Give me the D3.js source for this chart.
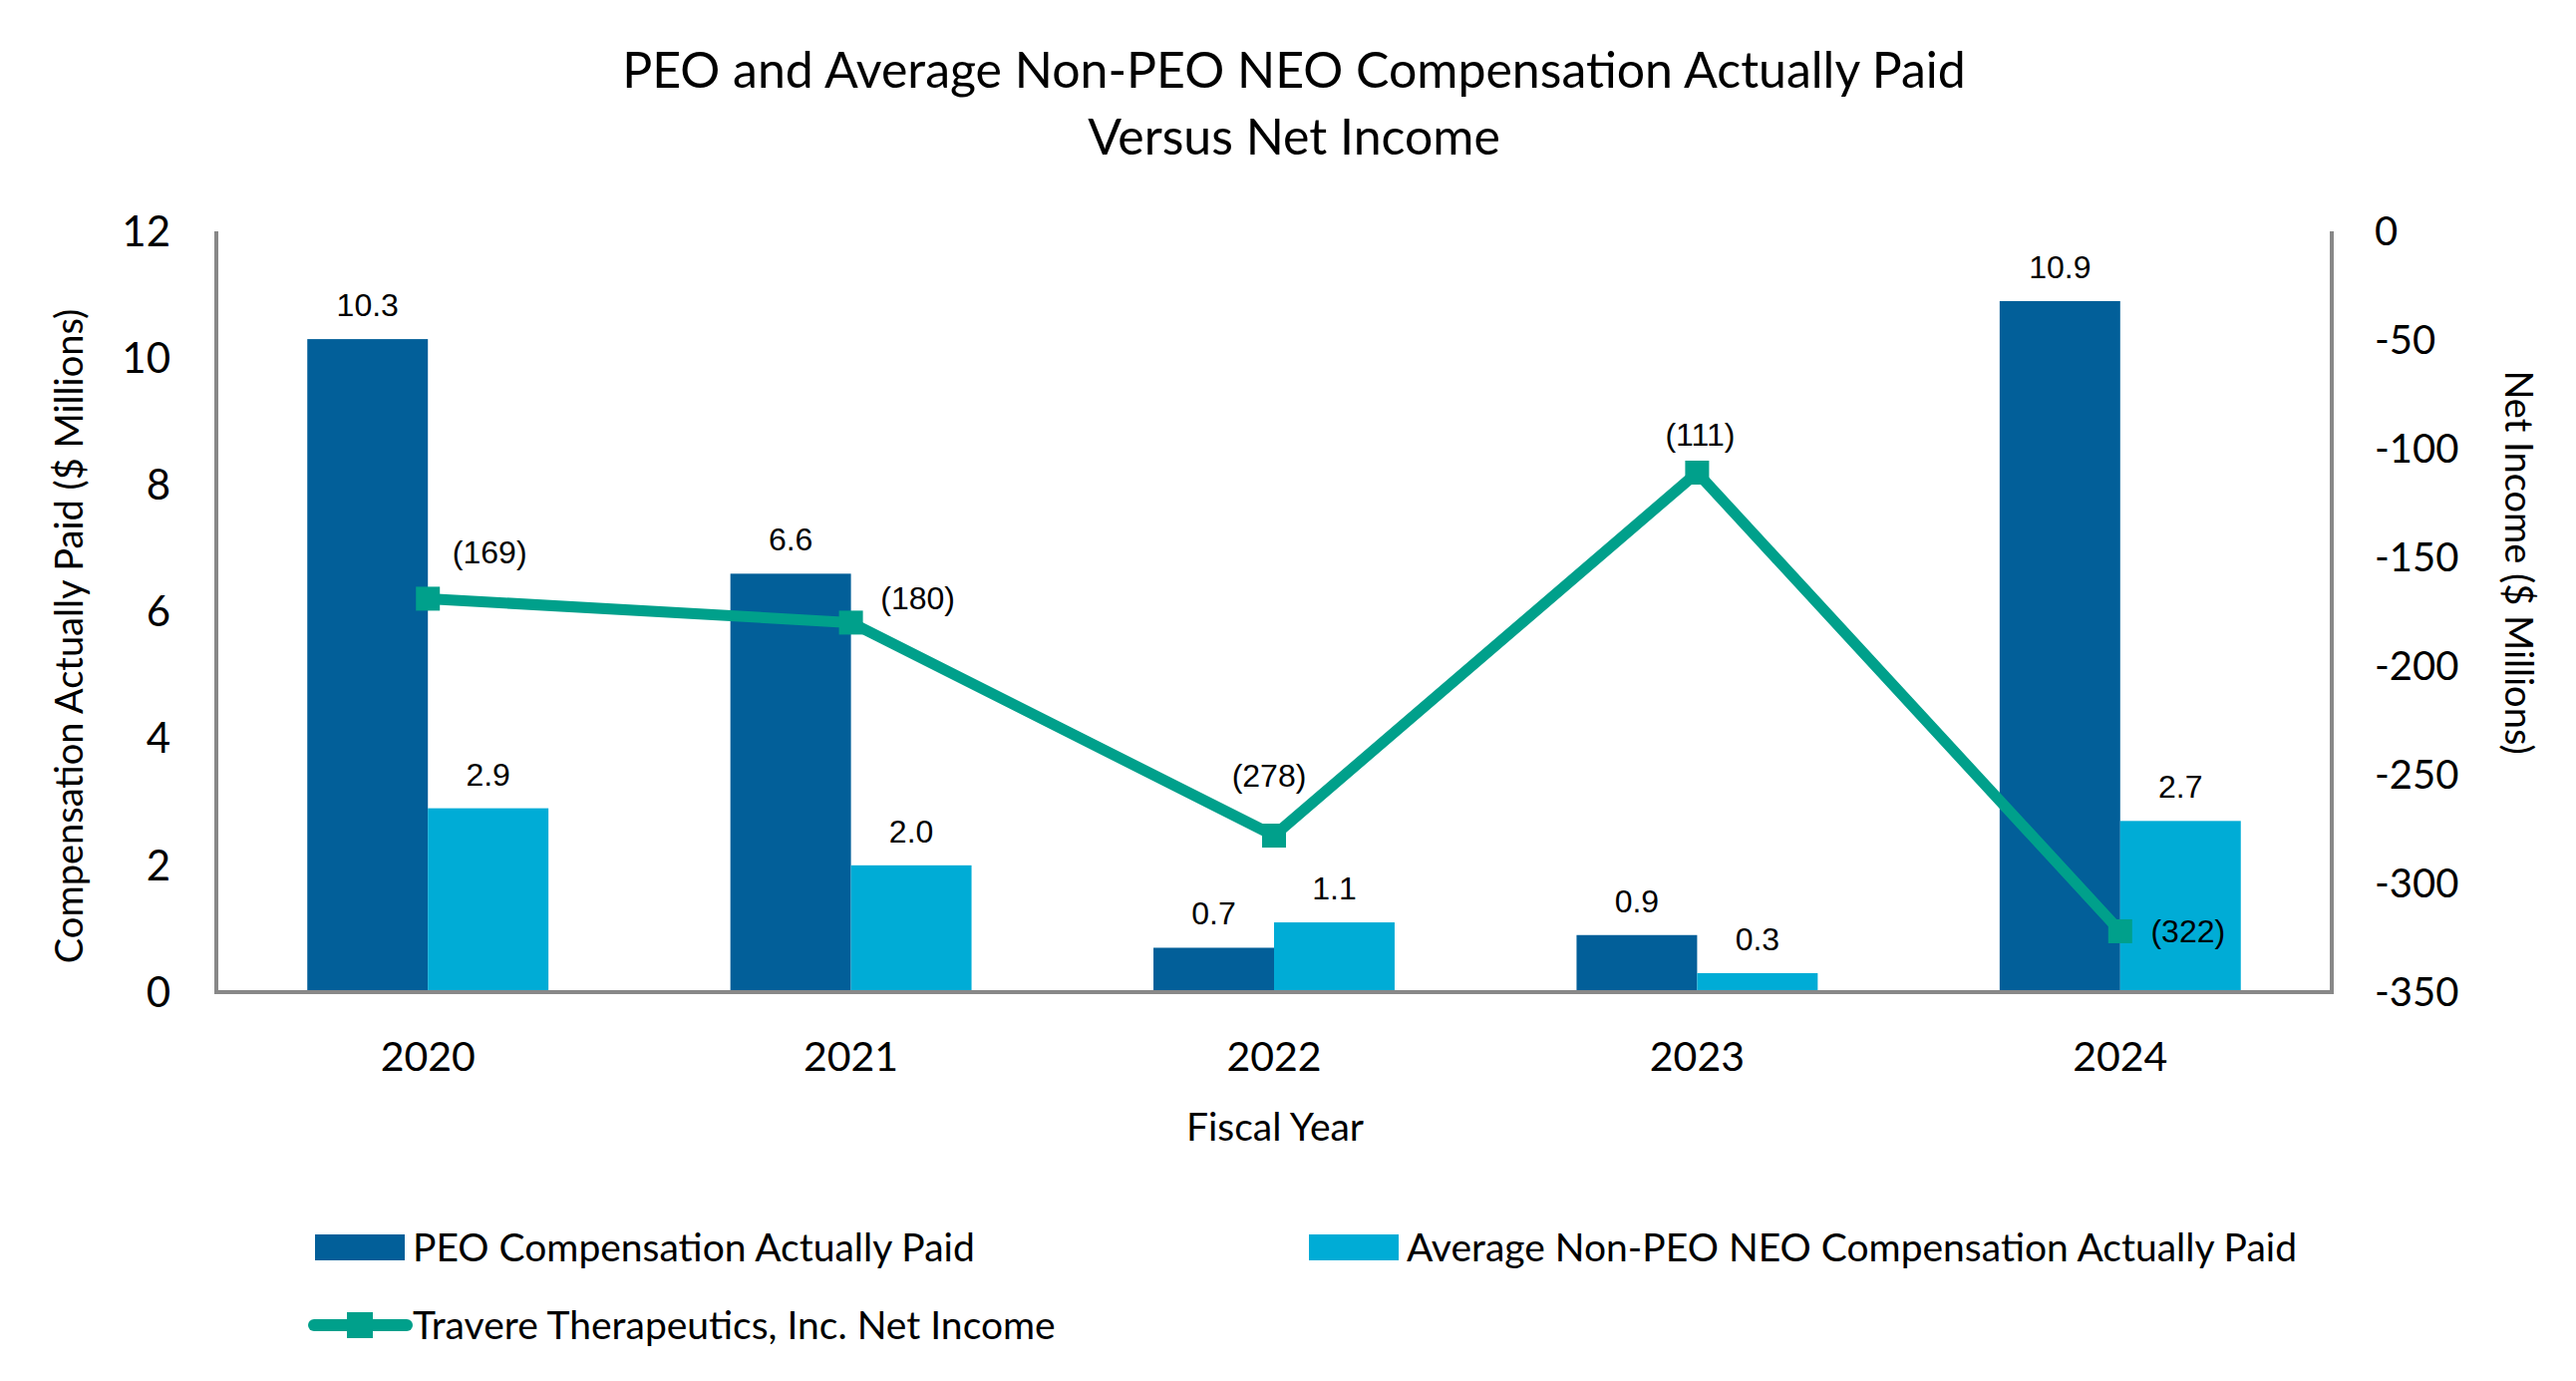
<!DOCTYPE html>
<html>
<head>
<meta charset="utf-8">
<script src="https://cdn.jsdelivr.net/npm/d3@7"></script>
<style>
  body { margin: 0; background: #fff; }
  text { font-family: "Lato", sans-serif; fill: #000; }
  .lbl { font-family: "Liberation Sans", Arial, sans-serif; }
</style>
</head>
<body>
<script>
const years = ["2020", "2021", "2022", "2023", "2024"];
const peoCap = [10.3, 6.6, 0.7, 0.9, 10.9];
const avgCap = [2.9, 2.0, 1.1, 0.3, 2.7];
const netIncome = [-169, -180, -278, -111, -322];
const leftTicks = [0, 2, 4, 6, 8, 10, 12];
const rightTicks = [0, -50, -100, -150, -200, -250, -300, -350];

const w = 2584;
const h = 1385;
const m = { left: 217, right: 2339, top: 232, bottom: 995 };

const peoColor = "#025f99";
const avgColor = "#00acd6";
const lineColor = "#00a08b";

const svg = d3.select("body").append("svg").attr("width", w).attr("height", h);

const x = d3.scaleBand().domain(years).range([m.left, m.right]);
const y = d3.scaleLinear().domain([0, 12]).range([m.bottom, m.top]);
const y2 = d3.scaleLinear().domain([-350, 0]).range([m.bottom, m.top]);
const barW = x.bandwidth() * 0.285;

// title
svg.append("text").attr("x", 1298).attr("y", 88).attr("text-anchor", "middle")
  .style("font-size", "50px").text("PEO and Average Non-PEO NEO Compensation Actually Paid");
svg.append("text").attr("x", 1298).attr("y", 155).attr("text-anchor", "middle")
  .style("font-size", "50px").text("Versus Net Income");

// bars
svg.selectAll(".peo").data(peoCap).enter().append("rect")
  .attr("x", (d, i) => x(years[i]) + x.bandwidth() / 2 - barW)
  .attr("y", d => y(d)).attr("width", barW).attr("height", d => y(0) - y(d))
  .attr("fill", peoColor);
svg.selectAll(".avg").data(avgCap).enter().append("rect")
  .attr("x", (d, i) => x(years[i]) + x.bandwidth() / 2)
  .attr("y", d => y(d)).attr("width", barW).attr("height", d => y(0) - y(d))
  .attr("fill", avgColor);

svg.selectAll(".peoLbl").data(peoCap).enter().append("text").attr("class", "lbl")
  .attr("x", (d, i) => x(years[i]) + x.bandwidth() / 2 - barW / 2)
  .attr("y", d => y(d) - 23).attr("text-anchor", "middle").style("font-size", "32px")
  .text(d => d.toFixed(1));
svg.selectAll(".avgLbl").data(avgCap).enter().append("text").attr("class", "lbl")
  .attr("x", (d, i) => x(years[i]) + x.bandwidth() / 2 + barW / 2)
  .attr("y", d => y(d) - 23).attr("text-anchor", "middle").style("font-size", "32px")
  .text(d => d.toFixed(1));

// axes lines
const axisG = svg.append("g").attr("stroke", "#888").attr("stroke-width", 4);
axisG.append("line").attr("x1", m.left).attr("x2", m.left).attr("y1", m.top).attr("y2", m.bottom);
axisG.append("line").attr("x1", m.right).attr("x2", m.right).attr("y1", m.top).attr("y2", m.bottom);
axisG.append("line").attr("x1", m.left - 2).attr("x2", m.right + 2).attr("y1", m.bottom).attr("y2", m.bottom);

// tick labels
svg.selectAll(".lt").data(leftTicks).enter().append("text")
  .attr("x", 171).attr("y", d => y(d)).attr("dy", "0.35em").attr("text-anchor", "end")
  .style("font-size", "42px").text(d => d);
svg.selectAll(".rt").data(rightTicks).enter().append("text")
  .attr("x", 2382).attr("y", d => y2(d)).attr("dy", "0.35em").attr("text-anchor", "start")
  .style("font-size", "40px").text(d => d);
svg.selectAll(".xt").data(years).enter().append("text")
  .attr("x", d => x(d) + x.bandwidth() / 2).attr("y", 1060).attr("dy", "0.35em")
  .attr("text-anchor", "middle").style("font-size", "41px").text(d => d);

svg.append("text").attr("x", 1279).attr("y", 1130).attr("dy", "0.35em").attr("text-anchor", "middle")
  .style("font-size", "39px").text("Fiscal Year");
svg.append("text").attr("transform", "translate(70,638) rotate(-90)").attr("dy", "0.35em")
  .attr("text-anchor", "middle").style("font-size", "38px")
  .text("Compensation Actually Paid ($ Millions)");
svg.append("text").attr("transform", "translate(2526,564) rotate(90)").attr("dy", "0.35em")
  .attr("text-anchor", "middle").style("font-size", "38px")
  .text("Net Income ($ Millions)");

// net income line
const cx = i => x(years[i]) + x.bandwidth() / 2;
const line = d3.line().x((d, i) => cx(i)).y(d => y2(d));
svg.append("path").datum(netIncome).attr("d", line).attr("fill", "none")
  .attr("stroke", lineColor).attr("stroke-width", 11).attr("stroke-linejoin", "round");
svg.selectAll(".mk").data(netIncome).enter().append("rect")
  .attr("x", (d, i) => cx(i) - 12).attr("y", d => y2(d) - 12)
  .attr("width", 24).attr("height", 24).attr("fill", lineColor);

const niOff = [[62, -47], [67, -25], [-5, -60], [3, -38], [68, 0]];
svg.selectAll(".niLbl").data(netIncome).enter().append("text").attr("class", "lbl")
  .attr("x", (d, i) => cx(i) + niOff[i][0]).attr("y", (d, i) => y2(d) + niOff[i][1])
  .attr("dy", "0.35em").attr("text-anchor", "middle").style("font-size", "32px")
  .text(d => "(" + Math.abs(d) + ")");

// legend
const lg = svg.append("g");
lg.append("rect").attr("x", 316).attr("y", 1238).attr("width", 90).attr("height", 26).attr("fill", peoColor);
lg.append("text").attr("x", 414).attr("y", 1251).attr("dy", "0.35em").style("font-size", "39px")
  .text("PEO Compensation Actually Paid");
lg.append("rect").attr("x", 1313).attr("y", 1238).attr("width", 90).attr("height", 26).attr("fill", avgColor);
lg.append("text").attr("x", 1411).attr("y", 1251).attr("dy", "0.35em").style("font-size", "39px")
  .text("Average Non-PEO NEO Compensation Actually Paid");
lg.append("line").attr("x1", 315).attr("x2", 408).attr("y1", 1329).attr("y2", 1329)
  .attr("stroke", lineColor).attr("stroke-width", 12).attr("stroke-linecap", "round");
lg.append("rect").attr("x", 348).attr("y", 1316).attr("width", 26).attr("height", 26).attr("fill", lineColor);
lg.append("text").attr("x", 414).attr("y", 1329).attr("dy", "0.35em").style("font-size", "39px")
  .text("Travere Therapeutics, Inc. Net Income");
</script>
</body>
</html>
